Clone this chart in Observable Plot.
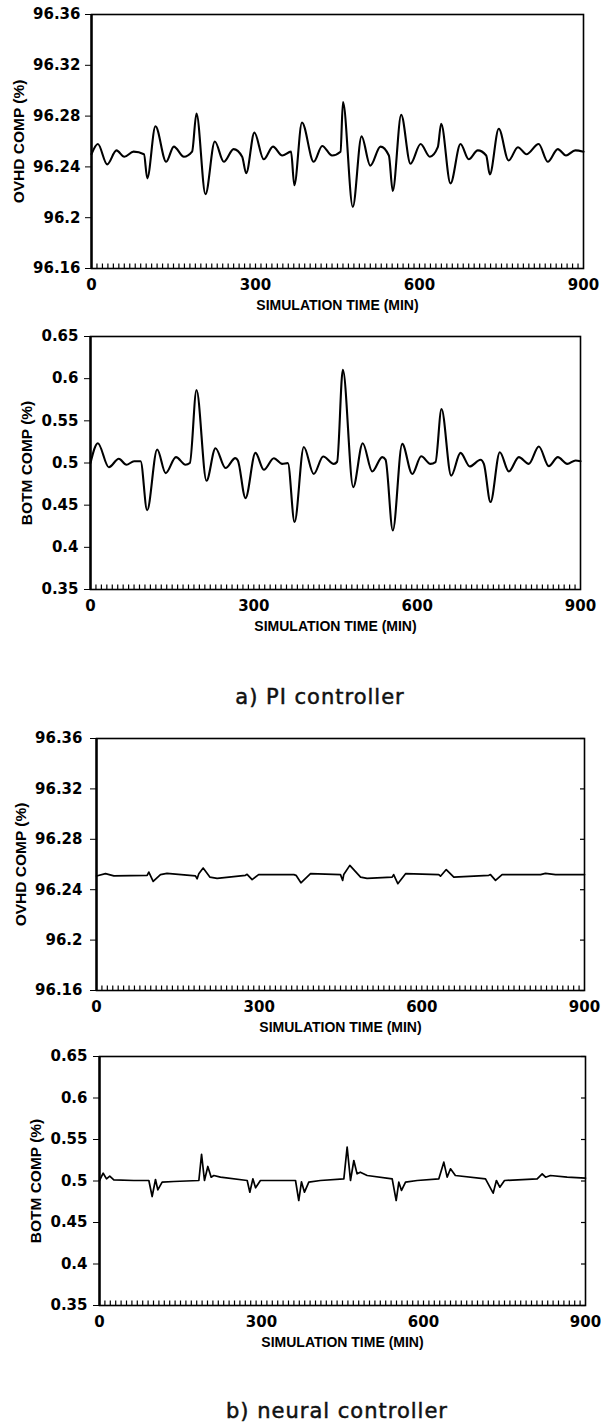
<!DOCTYPE html>
<html>
<head>
<meta charset="utf-8">
<script src="https://cdn.jsdelivr.net/npm/d3@7"></script>
<script src="https://cdn.jsdelivr.net/npm/@observablehq/plot@0.6"></script>
<style>
  html, body { margin: 0; padding: 0; background: #fff; }
  #wrap { position: relative; width: 601px; height: 1422px; overflow: hidden; background: #fff; }
  #wrap svg { position: absolute; left: 0; background: transparent; overflow: visible; }
  .cap { position: absolute; width: 400px; text-align: center; font-family: "DejaVu Sans", sans-serif;
         font-size: 21px; line-height: 21px; letter-spacing: 1px; color: #111; white-space: nowrap;
         -webkit-text-stroke: 0.5px #111; }
</style>
</head>
<body>
<div id="wrap"></div>
<script>
// ---------- data ----------
const xTicks = [0, 300, 600, 900];
const ovhdTicks = [96.16, 96.2, 96.24, 96.28, 96.32, 96.36];
const botmTicks = [0.35, 0.4, 0.45, 0.5, 0.55, 0.6, 0.65];
const xLabel = "SIMULATION TIME (MIN)";
const ovhdLabel = "OVHD COMP (%)";
const botmLabel = "BOTM COMP (%)";
const captionA = "a) PI controller";
const captionB = "b) neural controller";

// a) PI controller – overhead composition
const piOvhdTime = [0, 11.6, 28.7, 45.7, 60, 77, 96, 102, 117, 136.6, 150.6, 169, 184, 192, 208.5, 225.6, 242, 260, 275.6, 283, 298, 315, 332, 349, 365, 371, 385, 406.5, 422, 440, 455.5, 460, 478, 494, 510, 528.6, 544, 551, 566.5, 583.5, 602, 619, 633.5, 639.6, 656.7, 675, 690, 706.6, 722, 728.6, 745, 763, 780, 795.7, 818, 834.6, 853, 868, 885, 900];
const piOvhdValue = [96.250, 96.258, 96.242, 96.253, 96.248, 96.252, 96.250, 96.231, 96.272, 96.244, 96.256, 96.248, 96.252, 96.282, 96.2185, 96.260, 96.244, 96.254, 96.248, 96.235, 96.267, 96.246, 96.256, 96.249, 96.252, 96.2255, 96.275, 96.244, 96.2565, 96.249, 96.252, 96.291, 96.2085, 96.264, 96.241, 96.256, 96.249, 96.221, 96.281, 96.2425, 96.258, 96.248, 96.2555, 96.274, 96.227, 96.258, 96.246, 96.253, 96.249, 96.234, 96.270, 96.245, 96.2555, 96.250, 96.258, 96.244, 96.254, 96.249, 96.253, 96.252];

// a) PI controller – bottom composition
const piBotmTime = [0, 13.5, 33.7, 52, 66, 80, 92, 104, 122.5, 138, 157, 174.5, 182.5, 194.7, 213, 229.6, 248, 266, 270.7, 284.7, 303, 318.4, 336.8, 352, 362.5, 374.8, 391.8, 410, 427.4, 447, 453, 463.5, 482.5, 500, 517.4, 535.8, 541.9, 555.3, 572.5, 591, 607.4, 624.5, 633.6, 644.7, 662.5, 679.6, 696.7, 716.4, 722.5, 734.7, 751.8, 768.4, 786.7, 805, 823.5, 841.8, 858.4, 875.6, 891, 900];
const piBotmValue = [0.500, 0.5235, 0.495, 0.505, 0.498, 0.502, 0.502, 0.444, 0.516, 0.488, 0.507, 0.498, 0.500, 0.5865, 0.479, 0.5175, 0.494, 0.5058, 0.503, 0.4584, 0.512, 0.492, 0.5057, 0.499, 0.4998, 0.430, 0.519, 0.487, 0.5077, 0.499, 0.5015, 0.6106, 0.4714, 0.5235, 0.490, 0.507, 0.504, 0.420, 0.5227, 0.487, 0.508, 0.499, 0.501, 0.564, 0.485, 0.512, 0.4959, 0.5038, 0.499, 0.4537, 0.5128, 0.490, 0.507, 0.499, 0.5196, 0.4963, 0.507, 0.499, 0.503, 0.502];

// b) neural controller – overhead composition
const nnOvhdTime = [0, 16.6, 32, 93.4, 96.5, 104.5, 118, 130, 182.5, 185.6, 188.7, 196.7, 209, 222.5, 274.7, 277.8, 287, 299, 364, 368, 377, 394.7, 450, 454, 456, 467.2, 487, 499, 545.3, 548, 555.7, 570, 631.3, 634.4, 645, 659, 723.5, 726.6, 735.9, 748, 819, 828, 846.5, 900];
const nnOvhdValue = [96.2509, 96.2527, 96.2510, 96.2514, 96.2540, 96.2466, 96.2520, 96.2530, 96.2510, 96.2487, 96.2527, 96.2572, 96.2500, 96.2490, 96.2514, 96.2522, 96.2480, 96.2520, 96.2520, 96.2514, 96.2455, 96.2527, 96.2520, 96.2474, 96.2520, 96.2593, 96.2500, 96.2490, 96.2500, 96.2520, 96.2448, 96.2527, 96.2520, 96.2507, 96.2560, 96.2500, 96.2514, 96.2520, 96.2474, 96.2520, 96.2520, 96.2530, 96.2520, 96.2520];

// b) neural controller – bottom composition
const nnBotmTime = [0, 6.8, 13, 19, 26.5, 63.6, 91.4, 97.5, 103.7, 108, 116, 137.6, 184, 189, 194.4, 200.6, 206.8, 211.7, 224, 273.5, 278.4, 284, 289, 298, 353.7, 363, 369, 374, 379.6, 387.6, 409, 452.5, 458.6, 464.8, 471, 477, 483, 495.7, 542, 549.4, 554.3, 559.3, 566.7, 588.3, 628.4, 637.6, 643.8, 650, 659, 714.8, 729, 735, 741.3, 750, 810.5, 819.8, 826, 835, 866, 900];
const nnBotmValue = [0.5006, 0.5094, 0.5026, 0.5058, 0.5014, 0.5006, 0.5006, 0.4813, 0.5018, 0.4894, 0.4986, 0.4994, 0.5006, 0.5320, 0.5006, 0.5175, 0.5046, 0.5066, 0.5046, 0.5006, 0.4865, 0.5026, 0.4918, 0.5006, 0.5006, 0.5006, 0.4765, 0.4990, 0.4865, 0.4986, 0.5006, 0.5026, 0.5408, 0.5006, 0.5247, 0.5086, 0.5106, 0.5066, 0.5026, 0.4765, 0.4986, 0.4886, 0.4986, 0.5006, 0.5026, 0.5227, 0.5046, 0.5147, 0.5066, 0.5026, 0.4853, 0.5006, 0.4926, 0.5006, 0.5026, 0.5086, 0.5046, 0.5066, 0.5046, 0.5034];

// ---------- drawing ----------
const wrap = document.getElementById("wrap");
const minorTicks = d3.range(10, 900, 10);
const labelFont = "'Liberation Sans', Arial, sans-serif";

function panel(o) {
  const rows = o.time.map((t, i) => ({t, v: o.values[i]}));
  const plotH = o.height - o.mt - o.mb;
  const marks = [
    Plot.tickX(minorTicks, {x: d => d, insetTop: plotH - 4.5, stroke: "#000", strokeWidth: 1.2}),
    Plot.line(rows, {x: "t", y: "v", curve: o.curve, stroke: "#000", strokeWidth: o.sw}),
    Plot.frame({stroke: "#000", strokeWidth: 1.6}),
    Plot.ruleX([0], {stroke: "#000", strokeWidth: 2.4}),
    Plot.text([o.yLabel], {frameAnchor: "left", rotate: -90, dx: o.labelDx, textAnchor: "middle", lineAnchor: "middle",
      fontFamily: labelFont, fontWeight: "bold", fontSize: 15.5, fill: "#000"}),
    Plot.text([xLabel], {frameAnchor: "bottom", dy: 37, textAnchor: "middle", lineAnchor: "middle",
      fontFamily: labelFont, fontWeight: "bold", fontSize: 14, fill: "#000"})
  ];
  if (o.rightTicks) {
    const plotW = 601 - o.ml - o.mr;
    marks.push(Plot.tickY(o.yTicks, {y: d => d, insetLeft: plotW - 4, stroke: "#000", strokeWidth: 1.2}));
  }
  const svg = Plot.plot({
    width: 601,
    height: o.height,
    marginTop: o.mt,
    marginBottom: o.mb,
    marginLeft: o.ml,
    marginRight: o.mr,
    style: {fontFamily: "'DejaVu Sans', sans-serif", fontSize: "15px", fontWeight: "bold", color: "#000", background: "transparent", overflow: "visible"},
    x: {domain: [0, 900], ticks: xTicks, tickSize: 0, tickPadding: 11, label: null},
    y: {domain: o.yDomain, ticks: o.yTicks, tickFormat: d => String(d), tickSize: 6, tickPadding: o.tickPad, label: null},
    marks
  });
  svg.style.top = o.top + "px";
  wrap.appendChild(svg);
}

// frame bottoms: 268, 589, 990, 1305
panel({top: 0, height: 320, mt: 14, mb: 52, ml: 91, mr: 18, time: piOvhdTime, values: piOvhdValue,
  yDomain: [96.16, 96.36], yTicks: ovhdTicks, yLabel: ovhdLabel, curve: "monotone-x", sw: 2.1, labelDx: -72, tickPad: 5, rightTicks: false});
panel({top: 322, height: 330, mt: 14, mb: 63, ml: 90, mr: 21, time: piBotmTime, values: piBotmValue,
  yDomain: [0.35, 0.65], yTicks: botmTicks, yLabel: botmLabel, curve: "monotone-x", sw: 2.1, labelDx: -63.5, tickPad: 6, rightTicks: false});
panel({top: 724, height: 318, mt: 14, mb: 52, ml: 96, mr: 17, time: nnOvhdTime, values: nnOvhdValue,
  yDomain: [96.16, 96.36], yTicks: ovhdTicks, yLabel: ovhdLabel, curve: "linear", sw: 1.7, labelDx: -75, tickPad: 8, rightTicks: true});
panel({top: 1044, height: 320, mt: 12, mb: 59, ml: 99, mr: 16, time: nnBotmTime, values: nnBotmValue,
  yDomain: [0.35, 0.65], yTicks: botmTicks, yLabel: botmLabel, curve: "linear", sw: 1.7, labelDx: -63.5, tickPad: 6, rightTicks: true});

function caption(text, cx, top) {
  const d = document.createElement("div");
  d.className = "cap";
  d.textContent = text;
  d.style.left = (cx - 200) + "px";
  d.style.top = top + "px";
  wrap.appendChild(d);
}
caption(captionA, 320, 687);
caption(captionB, 337, 1401);
</script>
</body>
</html>
